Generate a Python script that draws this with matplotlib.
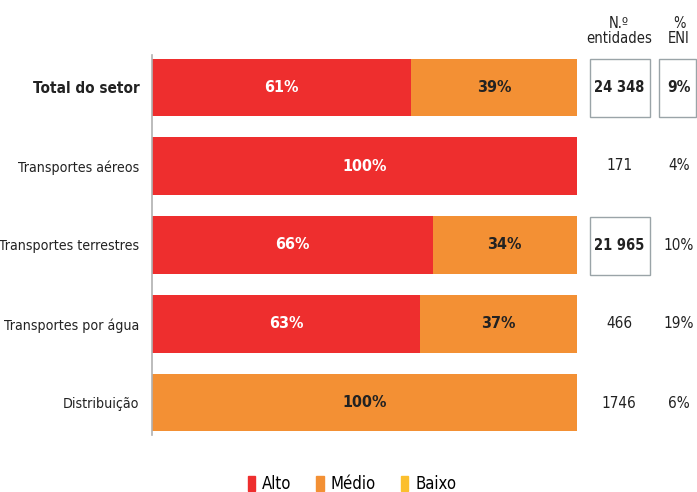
import matplotlib

matplotlib.use("Agg")
import matplotlib.pyplot as plt
from matplotlib.patches import Rectangle, Patch

plt.rcParams["font.family"] = ["DejaVu Sans"]
plt.rcParams["font.stretch"] = "condensed"

categories = [
    "Total do setor",
    "Transportes aéreos",
    "Transportes terrestres",
    "Transportes por água",
    "Distribuição",
]
alto = [61, 100, 66, 63, 0]
medio = [39, 0, 34, 37, 100]
baixo = [0, 0, 0, 0, 0]
entidades = ["24 348", "171", "21 965", "466", "1746"]
eni = ["9%", "4%", "10%", "19%", "6%"]
entidades_box = [True, False, True, False, False]
eni_box = [True, False, False, False, False]

RED = "#ee2e2e"
ORANGE = "#f39034"
YELLOW = "#fbbf2e"
DARK = "#222222"

W, H = 697, 492
fig = plt.figure(figsize=(W / 100, H / 100), dpi=100)
ax = fig.add_axes([152 / W, 1 - 435 / H, (577 - 152) / W, 380 / H])

y = list(range(len(categories)))
bh = 0.73
ax.barh(y, alto, height=bh, color=RED, left=0)
ax.barh(y, medio, height=bh, color=ORANGE, left=alto)
left_b = [a + m for a, m in zip(alto, medio)]
ax.barh(y, baixo, height=bh, color=YELLOW, left=left_b)

for i in y:
    if alto[i] > 0:
        ax.text(alto[i] / 2, i, f"{alto[i]}%", ha="center", va="center",
                color="white", fontsize=11.5, fontweight="bold")
    if medio[i] > 0:
        ax.text(alto[i] + medio[i] / 2, i, f"{medio[i]}%", ha="center", va="center",
                color=DARK, fontsize=11.5, fontweight="bold")

ax.set_xlim(0, 100)
ax.set_ylim(4.41, -0.41)
ax.set_yticks(y)
ax.set_yticklabels(categories, fontsize=10.2, color=DARK)
for i, lab in enumerate(ax.get_yticklabels()):
    if i == 0:
        lab.set_fontweight("bold")
        lab.set_fontsize(11)
ax.tick_params(axis="y", length=0, pad=9)
ax.set_xticks([])
for s in ["top", "right", "bottom"]:
    ax.spines[s].set_visible(False)
ax.spines["left"].set_color("#b0b0b0")
ax.spines["left"].set_linewidth(1.2)

# right columns
col1_x, col2_x = 619, 679
fig.text(col1_x / W, 1 - 31 / H, "N.º\nentidades", ha="center", va="center",
         fontsize=10.5, color=DARK, linespacing=1.0)
fig.text(col2_x / W, 1 - 31 / H, "%\nENI", ha="center", va="center",
         fontsize=10.5, color=DARK, linespacing=1.0)

row_px = [88, 166, 246, 324, 403]
for i in y:
    yc = 1 - row_px[i] / H
    if entidades_box[i]:
        fig.text(col1_x / W, yc, entidades[i], ha="center", va="center", fontsize=10.5,
                 color=DARK, fontweight="bold")
        fig.patches.append(Rectangle((590 / W, 1 - (row_px[i] + 29) / H), 60 / W, 58 / H,
                                     transform=fig.transFigure, fill=False,
                                     edgecolor="#9aa4a8", linewidth=1))
    else:
        fig.text(col1_x / W, yc, entidades[i], ha="center", va="center", fontsize=11,
                 color=DARK)
    if eni_box[i]:
        fig.text(col2_x / W, yc, eni[i], ha="center", va="center", fontsize=11,
                 color=DARK, fontweight="bold")
        fig.patches.append(Rectangle((659 / W, 1 - (row_px[i] + 29) / H), 37 / W, 58 / H,
                                     transform=fig.transFigure, fill=False,
                                     edgecolor="#9aa4a8", linewidth=1))
    else:
        fig.text(col2_x / W, yc, eni[i], ha="center", va="center", fontsize=11,
                 color=DARK)

handles = [Patch(color=RED), Patch(color=ORANGE), Patch(color=YELLOW)]
fig.legend(handles, ["Alto", "Médio", "Baixo"], loc="center", ncol=3,
           bbox_to_anchor=(352 / W, 1 - 484 / H), frameon=False, fontsize=12,
           handlelength=0.45, handleheight=1.0, handletextpad=0.4, columnspacing=1.5)

fig.savefig("out.png", dpi=100)
